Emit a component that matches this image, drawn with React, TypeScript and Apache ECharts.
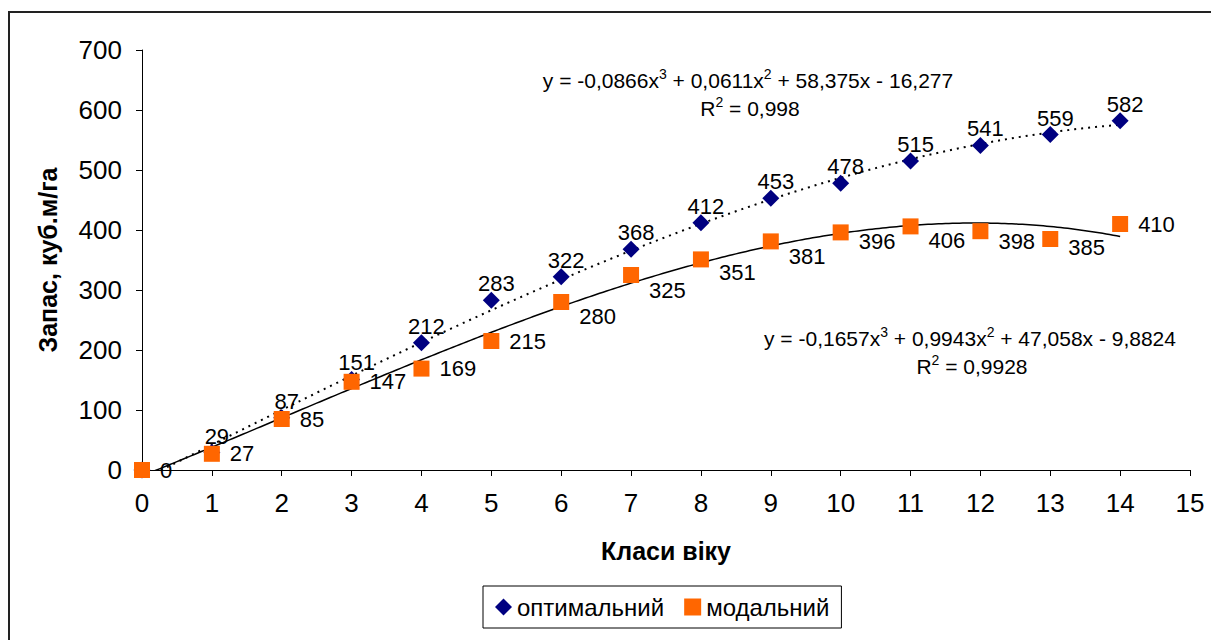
import React, { useEffect, useRef } from "react";
import * as echarts from "echarts";

const classes = [0, 1, 2, 3, 4, 5, 6, 7, 8, 9, 10, 11, 12, 13, 14];
const optimalValues = [0, 29, 87, 151, 212, 283, 322, 368, 412, 453, 478, 515, 541, 559, 582];
const modalValues = [0, 27, 85, 147, 169, 215, 280, 325, 351, 381, 396, 406, 398, 385, 410];
// trendline coefficients [x^3, x^2, x, const]
const optimalCoef = [-0.0866, 0.0611, 58.375, -16.277];
const modalCoef = [-0.1657, 0.9943, 47.058, -9.8824];
const optimalR2 = "0,998";
const modalR2 = "0,9928";
const seriesNames = ["оптимальний", "модальний"];
const xTicks = [0, 15];
const yTicks = [0, 700];

// label layout tweaks (vertical shifts in px) for the modal labels
const modalLabelShift = [0, 0, 0, 0, 0, 0, 14, 15, 13, 15, 9, 14, 10, 8, 0];

const FONT = "'Liberation Sans', Arial, sans-serif";

function poly(c: number[], x: number) {
  return c[0] * x * x * x + c[1] * x * x + c[2] * x + c[3];
}

function trend(c: number[]) {
  const pts: number[][] = [];
  const x0 = classes[0];
  const x1 = classes[classes.length - 1];
  const steps = 280;
  for (let i = 0; i <= steps; i++) {
    const x = x0 + ((x1 - x0) * i) / steps;
    pts.push([x, poly(c, x)]);
  }
  return pts;
}

function fmt(v: number) {
  return String(Math.abs(v)).replace(".", ",");
}

function eqText(c: number[]) {
  const s = (v: number) => (v < 0 ? " - " : " + ");
  return (
    "{n|y = " + (c[0] < 0 ? "-" : "") + fmt(c[0]) + "x}{s|3}" +
    "{n|" + s(c[1]) + fmt(c[1]) + "x}{s|2}" +
    "{n|" + s(c[2]) + fmt(c[2]) + "x" + s(c[3]) + fmt(c[3]) + "}"
  );
}

const rich = {
  n: { fontSize: 21, fontFamily: FONT, color: "#000", lineHeight: 26 },
  s: { fontSize: 14, fontFamily: FONT, color: "#000", verticalAlign: "top" as const, lineHeight: 20 },
};

export default function App() {
  const ref = useRef<HTMLDivElement>(null);
  useEffect(() => {
    if (!ref.current) return;
    const chart = echarts.init(ref.current, undefined, { renderer: "svg" });
    const option: any = {
      animation: false,
      backgroundColor: "#fff",
      grid: { left: 142, right: 21, top: 50, bottom: 170, containLabel: false },
      xAxis: {
        type: "value",
        min: xTicks[0],
        max: xTicks[1],
        interval: 1,
        name: "Класи віку",
        nameLocation: "middle",
        nameGap: 68,
        nameTextStyle: { fontFamily: FONT, fontSize: 25, fontWeight: "bold", color: "#000" },
        axisLine: { lineStyle: { color: "#000", width: 1 } },
        axisTick: { show: true, length: 6, lineStyle: { color: "#000" } },
        axisLabel: { fontFamily: FONT, fontSize: 26, color: "#000", margin: 20 },
        splitLine: { show: false },
      },
      yAxis: {
        type: "value",
        min: yTicks[0],
        max: yTicks[1],
        interval: 100,
        name: "Запас, куб.м/га",
        nameLocation: "middle",
        nameGap: 82,
        nameTextStyle: { fontFamily: FONT, fontSize: 25, fontWeight: "bold", color: "#000" },
        axisLine: { show: true, lineStyle: { color: "#000", width: 1 } },
        axisTick: { show: true, length: 6, lineStyle: { color: "#000" } },
        axisLabel: { fontFamily: FONT, fontSize: 26, color: "#000", margin: 20 },
        splitLine: { show: false },
      },
      legend: {
        left: 483,
        top: 586,
        orient: "horizontal",
        padding: [9, 12, 9, 12],
        borderColor: "#000",
        borderWidth: 1,
        itemWidth: 17,
        itemHeight: 17,
        itemGap: 20,
        textStyle: { fontFamily: FONT, fontSize: 24, color: "#000" },
        data: [
          { name: seriesNames[0], icon: "diamond" },
          { name: seriesNames[1], icon: "rect" },
        ],
      },
      graphic: [
        {
          type: "rect",
          shape: { x: 9, y: 12, width: 1260, height: 700 },
          style: { fill: "none", stroke: "#222", lineWidth: 2 },
          silent: true,
        },
        {
          type: "text",
          x: 748,
          y: 80,
          style: { text: eqText(optimalCoef), rich, align: "center", verticalAlign: "middle" },
        },
        {
          type: "text",
          x: 750,
          y: 108,
          style: { text: "{n|R}{s|2}{n| = " + optimalR2 + "}", rich, align: "center", verticalAlign: "middle" },
        },
        {
          type: "text",
          x: 970,
          y: 338,
          style: { text: eqText(modalCoef), rich, align: "center", verticalAlign: "middle" },
        },
        {
          type: "text",
          x: 972,
          y: 366,
          style: { text: "{n|R}{s|2}{n| = " + modalR2 + "}", rich, align: "center", verticalAlign: "middle" },
        },
      ],
      series: [
        {
          name: "trend-opt",
          type: "line",
          data: trend(optimalCoef),
          showSymbol: false,
          symbol: "none",
          clip: true,
          lineStyle: { color: "#000", width: 2, type: [2, 5] },
          silent: true,
          z: 1,
        },
        {
          name: "trend-mod",
          type: "line",
          data: trend(modalCoef),
          showSymbol: false,
          symbol: "none",
          clip: true,
          lineStyle: { color: "#000", width: 1.5 },
          silent: true,
          z: 1,
        },
        {
          name: seriesNames[0],
          type: "scatter",
          symbol: "diamond",
          symbolSize: 17,
          itemStyle: { color: "#000080", opacity: 1 },
          data: classes.map((x, i) => ({
            value: [x, optimalValues[i]],
            label: { show: i > 0 },
          })),
          label: {
            show: true,
            position: "top",
            distance: 0,
            offset: [5, 3],
            fontFamily: FONT,
            fontSize: 22,
            color: "#000",
            formatter: (p: any) => String(p.value[1]),
          },
          z: 3,
        },
        {
          name: seriesNames[1],
          type: "scatter",
          symbol: "rect",
          symbolSize: 16,
          itemStyle: { color: "#FF6600", opacity: 1 },
          data: classes.map((x, i) => ({
            value: [x, modalValues[i]],
            label: { offset: [0, modalLabelShift[i]] },
          })),
          label: {
            show: true,
            position: "right",
            distance: 10,
            fontFamily: FONT,
            fontSize: 22,
            color: "#000",
            formatter: (p: any) => String(p.value[1]),
          },
          z: 4,
        },
      ],
    };
    chart.setOption(option);
    return () => chart.dispose();
  }, []);
  return (
    <div
      ref={ref}
      style={{ position: "absolute", left: 0, top: 0, width: 1211, height: 640, background: "#fff" }}
    />
  );
}
